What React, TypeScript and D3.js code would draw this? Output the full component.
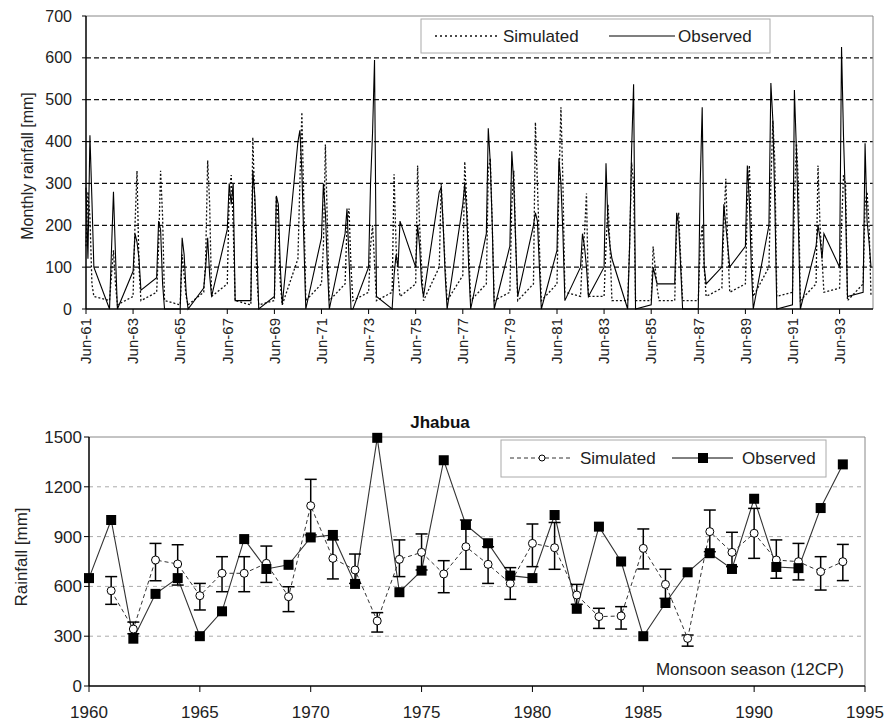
import React from "react";
import * as d3 from "d3";

const FONT = "'Liberation Sans', Arial, sans-serif";

// ---- top panel: monthly monsoon rainfall (Jun..Oct of each year) ----
const monsoonMonths = ["Jun", "Jul", "Aug", "Sep", "Oct"];
const monthlyYears = [
  1961, 1962, 1963, 1964, 1965, 1966, 1967, 1968, 1969, 1970, 1971, 1972,
  1973, 1974, 1975, 1976, 1977, 1978, 1979, 1980, 1981, 1982, 1983, 1984,
  1985, 1986, 1987, 1988, 1989, 1990, 1991, 1992, 1993, 1994,
];
const obsMonthly = [
  [290, 120, 415, 260, 100], [0, 140, 280, 130, 0], [90, 180, 160, 120, 45],
  [75, 210, 190, 60, 0], [0, 170, 130, 40, 0], [50, 100, 170, 80, 30],
  [190, 300, 250, 300, 20], [20, 330, 270, 150, 0], [30, 270, 250, 100, 10],
  [400, 427, 330, 160, 0], [170, 300, 230, 100, 0], [180, 240, 120, 0, 0],
  [100, 300, 420, 595, 30], [0, 80, 130, 100, 210], [100, 200, 150, 60, 30],
  [280, 290, 200, 80, 0], [250, 300, 230, 100, 0], [180, 432, 350, 200, 0],
  [150, 377, 300, 150, 30], [200, 230, 210, 100, 0], [140, 360, 300, 180, 20],
  [100, 180, 150, 100, 30], [100, 348, 200, 150, 120], [0, 150, 380, 537, 0],
  [10, 100, 80, 60, 60], [60, 230, 200, 100, 0], [0, 300, 482, 100, 60],
  [100, 250, 200, 150, 100], [150, 343, 260, 100, 0], [200, 540, 450, 250, 0],
  [10, 523, 380, 200, 0], [150, 200, 170, 120, 180], [100, 626, 410, 250, 30],
  [40, 396, 210, 160, 100],
];
const simMonthly = [
  [150, 280, 220, 60, 30], [20, 80, 140, 60, 10], [30, 200, 330, 100, 20],
  [40, 150, 330, 220, 20], [10, 130, 80, 30, 10], [40, 120, 355, 250, 30],
  [60, 270, 320, 200, 20], [10, 410, 250, 80, 10], [20, 270, 200, 60, 10],
  [120, 300, 470, 250, 20], [60, 150, 393, 200, 20], [60, 200, 240, 100, 20],
  [40, 150, 200, 110, 20], [40, 322, 150, 80, 30], [60, 343, 200, 100, 20],
  [100, 300, 200, 100, 20], [80, 352, 250, 150, 20], [60, 330, 360, 200, 20],
  [40, 250, 330, 150, 20], [60, 446, 300, 150, 20], [60, 300, 482, 300, 40],
  [30, 130, 180, 276, 30], [30, 150, 250, 150, 20], [20, 150, 350, 300, 20],
  [20, 149, 100, 50, 20], [20, 200, 230, 120, 20], [20, 150, 200, 100, 30],
  [50, 200, 311, 150, 40], [60, 250, 343, 200, 30], [100, 300, 450, 350, 30],
  [40, 250, 400, 300, 20], [60, 343, 200, 120, 40], [50, 200, 320, 300, 20],
  [60, 250, 280, 200, 30],
];
const topTickYears = [1961, 1963, 1965, 1967, 1969, 1971, 1973, 1975, 1977, 1979, 1981, 1983, 1985, 1987, 1989, 1991, 1993];
const topYTicks = [0, 100, 200, 300, 400, 500, 600, 700];

// ---- bottom panel: seasonal totals, Jhabua ----
const seasonYears = [
  1960, 1961, 1962, 1963, 1964, 1965, 1966, 1967, 1968, 1969, 1970, 1971,
  1972, 1973, 1974, 1975, 1976, 1977, 1978, 1979, 1980, 1981, 1982, 1983,
  1984, 1985, 1986, 1987, 1988, 1989, 1990, 1991, 1992, 1993, 1994,
];
const obsSeason = [
  650, 1000, 285, 555, 650, 300, 450, 885, 705, 730, 895, 910,
  615, 1495, 565, 695, 1360, 970, 860, 665, 650, 1030, 465, 960,
  750, 300, 500, 685, 800, 705, 1128, 717, 710, 1072, 1335,
];
const simSeason = [
  null, 574, 343, 759, 735, 544, 679, 679, 739, 538, 1086, 769,
  699, 392, 763, 805, 675, 839, 733, 618, 859, 833, 548, 418,
  422, 829, 612, 287, 930, 805, 920, 759, 749, 689, 749,
];
const simLow = [
  null, 492, 315, 634, 608, 458, 568, 568, 624, 448, 910, 645,
  618, 325, 659, 699, 562, 703, 618, 522, 719, 703, 492, 347,
  343, 705, 528, 240, 809, 719, 769, 649, 639, 578, 635,
];
const simHigh = [
  null, 659, 385, 859, 851, 618, 779, 779, 843, 598, 1245, 880,
  795, 442, 880, 916, 755, 1000, 839, 713, 976, 985, 612, 468,
  478, 946, 703, 307, 1060, 926, 1070, 880, 859, 779, 853,
];
const bottomXTicks = [1960, 1965, 1970, 1975, 1980, 1985, 1990, 1995];
const bottomYTicks = [0, 300, 600, 900, 1200, 1500];

export default function App() {
  // top scales
  const tx = d3.scaleTime().domain([new Date(1961, 5, 1), new Date(1994, 10, 1)]).range([86, 873]);
  const ty = d3.scaleLinear().domain([0, 700]).range([309, 16]);

  const toPoints = (series: number[][]) =>
    monthlyYears.flatMap((yr, i) =>
      monsoonMonths.map((_, j) => ({ date: new Date(yr, 5 + j, 1), v: series[i][j] }))
    );
  const topLine = d3.line<any>().x((d) => tx(d.date)).y((d) => ty(d.v));
  const obsPath = topLine(toPoints(obsMonthly));
  const simPath = topLine(toPoints(simMonthly));

  // bottom scales
  const bx = d3.scaleLinear().domain([1960, 1995]).range([89, 865]);
  const by = d3.scaleLinear().domain([0, 1500]).range([686, 437]);
  const obsPts = seasonYears.map((y, i) => ({ y, v: obsSeason[i] }));
  const simPts = seasonYears.map((y, i) => ({ y, v: simSeason[i], lo: simLow[i], hi: simHigh[i] })).filter((d) => d.v != null);
  const bLine = d3.line<any>().x((d) => bx(d.y)).y((d) => by(d.v));

  return (
    <svg width={885} height={724} style={{ position: "absolute", left: 0, top: 0, background: "#fff" }} fontFamily={FONT}>
      {/* ===== top panel ===== */}
      {topYTicks.slice(1, -1).map((t) => (
        <line key={t} x1={86} x2={873} y1={ty(t)} y2={ty(t)} stroke="#111" strokeWidth={1.2} strokeDasharray="5,3" />
      ))}
      <line x1={86} x2={873} y1={16} y2={16} stroke="#888" />
      <line x1={873} x2={873} y1={16} y2={309} stroke="#888" />
      <path d={simPath || ""} fill="none" stroke="#111" strokeWidth={1.3} strokeDasharray="2,2" />
      <path d={obsPath || ""} fill="none" stroke="#000" strokeWidth={1.1} />
      <line x1={86} x2={86} y1={16} y2={309} stroke="#000" strokeWidth={1.5} />
      <line x1={86} x2={873} y1={309} y2={309} stroke="#000" strokeWidth={1.5} />
      {topYTicks.map((t) => (
        <g key={t}>
          <line x1={82} x2={86} y1={ty(t)} y2={ty(t)} stroke="#000" />
          <text x={72} y={ty(t)} dy="0.35em" textAnchor="end" fontSize={16} fill="#222">{t}</text>
        </g>
      ))}
      {topTickYears.map((yr) => {
        const x = tx(new Date(yr, 5, 1));
        return (
          <g key={yr}>
            <line x1={x} x2={x} y1={309} y2={314} stroke="#000" />
            <text transform={`translate(${x},318) rotate(-90)`} dy="0.35em" textAnchor="end" fontSize={15} fill="#222">
              {"Jun-" + String(yr).slice(2)}
            </text>
          </g>
        );
      })}
      <text transform="translate(27,166) rotate(-90)" dy="0.35em" textAnchor="middle" fontSize={16} fill="#222">
        Monthly rainfall [mm]
      </text>
      {/* top legend */}
      <rect x={421} y={19} width={349} height={34} fill="#fff" stroke="#aaa" />
      <line x1={435} x2={500} y1={36} y2={36} stroke="#111" strokeWidth={1.3} strokeDasharray="2,3" />
      <text x={503} y={36} dy="0.35em" fontSize={17} fill="#222">Simulated</text>
      <line x1={609} x2={675} y1={36} y2={36} stroke="#000" strokeWidth={1.2} />
      <text x={678} y={36} dy="0.35em" fontSize={17} fill="#222">Observed</text>

      {/* ===== bottom panel ===== */}
      {bottomYTicks.slice(1, -1).map((t) => (
        <line key={t} x1={89} x2={865} y1={by(t)} y2={by(t)} stroke="#aaa" strokeDasharray="4,4" />
      ))}
      <line x1={89} x2={865} y1={437} y2={437} stroke="#888" />
      <line x1={865} x2={865} y1={437} y2={686} stroke="#888" />
      <text x={440} y={428} textAnchor="middle" fontSize={17} fontWeight="bold" fill="#111">Jhabua</text>

      <path d={bLine(simPts) || ""} fill="none" stroke="#333" strokeWidth={1} strokeDasharray="4,3" />
      <path d={bLine(obsPts) || ""} fill="none" stroke="#333" strokeWidth={1.1} />
      {simPts.map((d) => (
        <g key={"e" + d.y} stroke="#000" strokeWidth={1.5}>
          <line x1={bx(d.y)} x2={bx(d.y)} y1={by(d.lo as number)} y2={by(d.hi as number)} />
          <line x1={bx(d.y) - 6} x2={bx(d.y) + 6} y1={by(d.lo as number)} y2={by(d.lo as number)} />
          <line x1={bx(d.y) - 6} x2={bx(d.y) + 6} y1={by(d.hi as number)} y2={by(d.hi as number)} />
        </g>
      ))}
      {simPts.map((d) => (
        <circle key={"c" + d.y} cx={bx(d.y)} cy={by(d.v as number)} r={4} fill="#fff" stroke="#000" strokeWidth={1} />
      ))}
      {obsPts.map((d) => (
        <rect key={"s" + d.y} x={bx(d.y) - 5} y={by(d.v) - 5} width={10} height={10} fill="#000" />
      ))}
      <line x1={89} x2={89} y1={437} y2={686} stroke="#000" strokeWidth={1.5} />
      <line x1={89} x2={865} y1={686} y2={686} stroke="#000" strokeWidth={1.5} />
      {bottomYTicks.map((t) => (
        <g key={t}>
          <line x1={84} x2={89} y1={by(t)} y2={by(t)} stroke="#000" />
          <text x={82} y={by(t)} dy="0.35em" textAnchor="end" fontSize={17} fill="#222">{t}</text>
        </g>
      ))}
      {bottomXTicks.map((t) => (
        <g key={t}>
          <line x1={bx(t)} x2={bx(t)} y1={686} y2={692} stroke="#000" />
          <text x={bx(t)} y={712} dy="0.35em" textAnchor="middle" fontSize={17} fill="#222">{t}</text>
        </g>
      ))}
      <text transform="translate(21,557) rotate(-90)" dy="0.35em" textAnchor="middle" fontSize={17} fill="#222">
        Rainfall [mm]
      </text>
      <text x={844} y={675} textAnchor="end" fontSize={17} fill="#222">Monsoon season (12CP)</text>
      {/* bottom legend */}
      <rect x={501} y={440} width={325} height={37} fill="#fff" stroke="#aaa" />
      <line x1={510} x2={572} y1={458} y2={458} stroke="#333" strokeDasharray="4,3" />
      <circle cx={542} cy={458} r={3} fill="#fff" stroke="#000" />
      <text x={580} y={458} dy="0.35em" fontSize={17} fill="#222">Simulated</text>
      <line x1={672} x2={733} y1={458} y2={458} stroke="#000" />
      <rect x={698} y={453} width={10} height={10} fill="#000" />
      <text x={742} y={458} dy="0.35em" fontSize={17} fill="#222">Observed</text>
    </svg>
  );
}
